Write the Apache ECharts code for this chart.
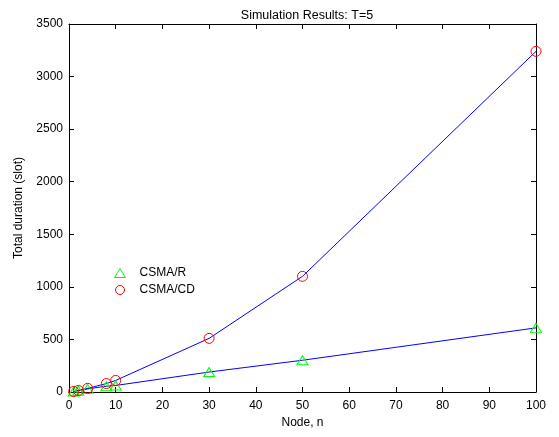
<!DOCTYPE html>
<html>
<head>
<meta charset="utf-8">
<script src="https://cdn.jsdelivr.net/npm/echarts@6/dist/echarts.min.js"></script>
<style>html,body{margin:0;padding:0;background:#fff}#c{width:559px;height:437px}</style>
</head>
<body>
<div id="c"></div>
<script>
var nodes = [1, 2, 4, 8, 10, 30, 50, 100];
var csmaR = [5, 12, 30, 55, 62, 190, 302, 610];
var csmaCD = [5, 15, 35, 80, 110, 510, 1100, 3240];
var xTicks = [0, 10, 20, 30, 40, 50, 60, 70, 80, 90, 100];
var yTicks = [0, 500, 1000, 1500, 2000, 2500, 3000, 3500];

function pairs(xs, ys) { return xs.map(function (x, i) { return [x, ys[i]]; }); }

var font = 'Liberation Sans, Arial, sans-serif';
var axisCommon = {
  axisLine: { show: true, onZero: false, lineStyle: { color: '#000', width: 1 } },
  axisTick: { show: true, inside: true, length: 5, lineStyle: { color: '#000' } },
  splitLine: { show: false }
};
function ext(o) { return Object.assign({}, axisCommon, o); }

var chart = echarts.init(document.getElementById('c'), null, { renderer: 'canvas' });
chart.setOption({
  animation: false,
  backgroundColor: '#fff',
  title: {
    text: 'Simulation Results: T=5',
    left: 302, top: 4, textAlign: 'center',
    textStyle: { fontFamily: font, fontSize: 12.5, fontWeight: 'normal', color: '#000' }
  },
  grid: { left: 69, right: 23, top: 24, bottom: 45, containLabel: false },
  legend: {
    orient: 'vertical', left: 109, top: 262,
    itemWidth: 11, itemHeight: 9, itemGap: 5,
    textStyle: { fontFamily: font, fontSize: 12, color: '#000', padding: [0, 0, 0, 9] },
    data: [
      { name: 'CSMA/R', icon: 'triangle', itemStyle: { color: 'rgba(0,0,0,0)', borderColor: '#00ff00', borderWidth: 1 } },
      { name: 'CSMA/CD', icon: 'circle', itemStyle: { color: 'rgba(0,0,0,0)', borderColor: '#ff0000', borderWidth: 1 } }
    ]
  },
  xAxis: [
    ext({
      type: 'value', min: 0, max: 100, interval: 10, position: 'bottom',
      name: 'Node, n', nameLocation: 'middle', nameGap: 23,
      nameTextStyle: { fontFamily: font, fontSize: 12, color: '#000' },
      axisLabel: { fontFamily: font, fontSize: 12, color: '#000', margin: 8,
        formatter: function (v) { return xTicks.indexOf(v) >= 0 ? String(v) : ''; } }
    }),
    ext({ type: 'value', min: 0, max: 100, interval: 10, position: 'top', axisLabel: { show: false } })
  ],
  yAxis: [
    ext({
      type: 'value', min: 0, max: 3500, interval: 500, position: 'left',
      name: 'Total duration (slot)', nameLocation: 'middle', nameGap: 44,
      nameTextStyle: { fontFamily: font, fontSize: 12, color: '#000' },
      axisLabel: { fontFamily: font, fontSize: 12, color: '#000', margin: 6,
        formatter: function (v) { return yTicks.indexOf(v) >= 0 ? String(v) : ''; } }
    }),
    ext({ type: 'value', min: 0, max: 3500, interval: 500, position: 'right', axisLabel: { show: false } })
  ],
  series: [
    {
      name: 'CSMA/R', type: 'line', data: pairs(nodes, csmaR),
      symbol: 'triangle', symbolSize: [11, 9], showAllSymbol: true,
      lineStyle: { color: '#0000ff', width: 1 },
      itemStyle: { color: 'rgba(0,0,0,0)', borderColor: '#00ff00', borderWidth: 1 }
    },
    {
      name: 'CSMA/CD', type: 'line', data: pairs(nodes, csmaCD),
      symbol: 'circle', symbolSize: 10, showAllSymbol: true,
      lineStyle: { color: '#0000ff', width: 1 },
      itemStyle: { color: 'rgba(0,0,0,0)', borderColor: '#ff0000', borderWidth: 1 }
    }
  ]
});
</script>
</body>
</html>
